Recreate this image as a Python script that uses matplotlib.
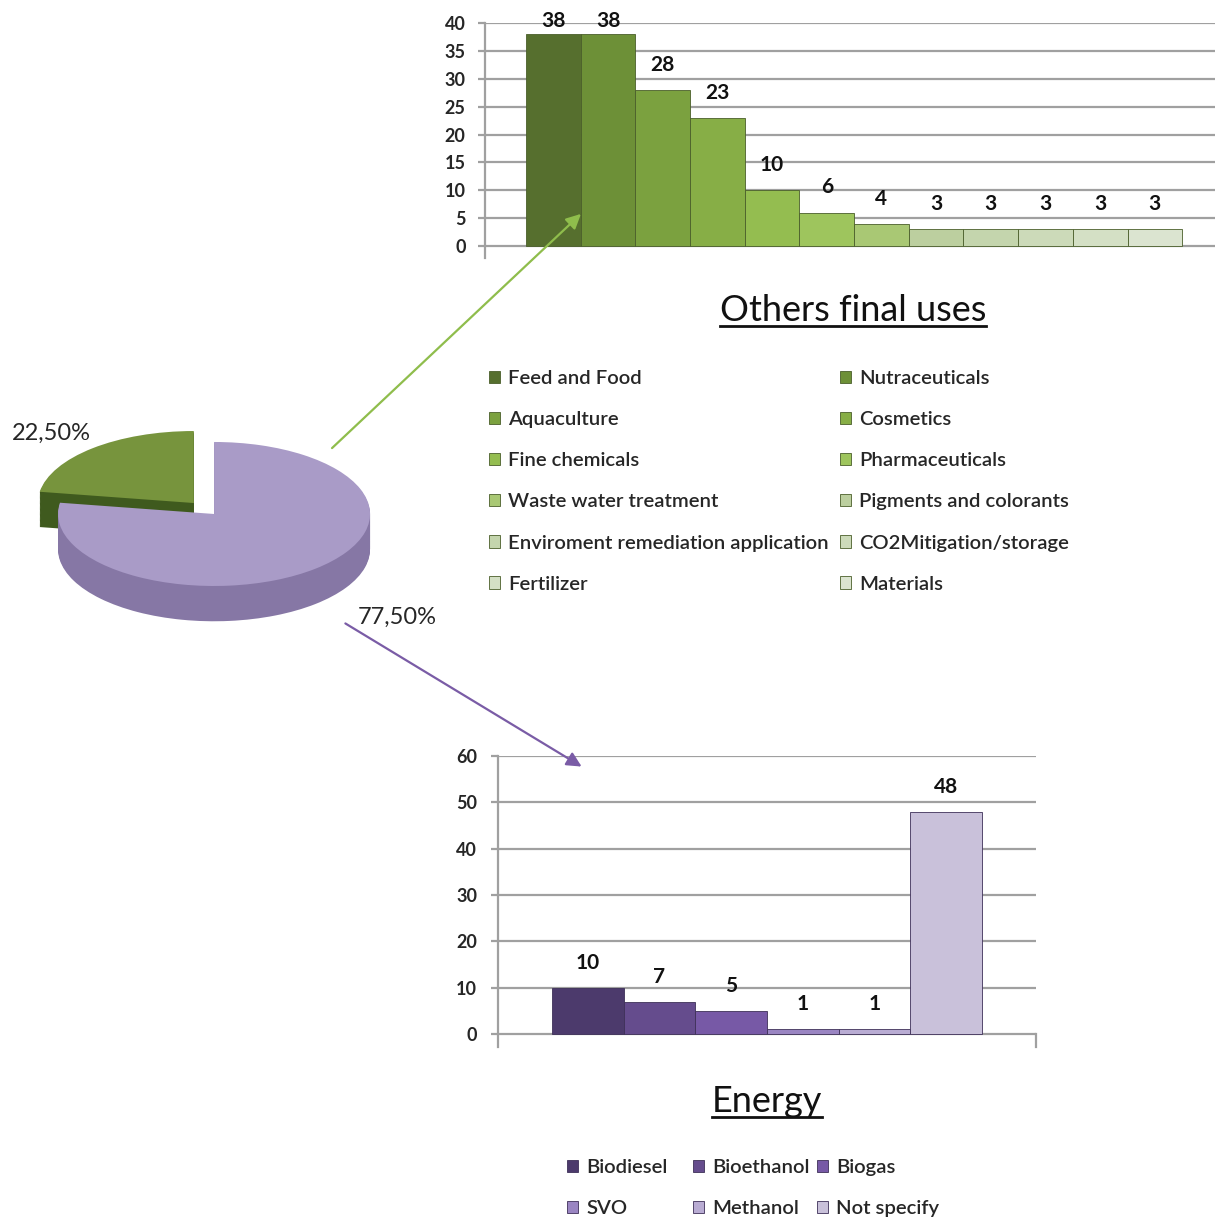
import matplotlib.pyplot as plt
import numpy as np
from matplotlib.patches import FancyArrowPatch
from matplotlib.lines import Line2D

plt.rcParams['font.family'] = ['Lato', 'DejaVu Sans']

# pie data
pie_labels = ['22,50%', '77,50%']
pie_shares = [22.5, 77.5]

# others final uses
other_uses = ['Feed and Food', 'Nutraceuticals', 'Aquaculture', 'Cosmetics',
              'Fine chemicals', 'Pharmaceuticals', 'Waste water treatment',
              'Pigments and colorants', 'Enviroment remediation application',
              'CO2Mitigation/storage', 'Fertilizer', 'Materials']
other_counts = [38, 38, 28, 23, 10, 6, 4, 3, 3, 3, 3, 3]

# energy
energy_uses = ['Biodiesel', 'Bioethanol', 'Biogas', 'SVO', 'Methanol', 'Not specify']
energy_counts = [10, 7, 5, 1, 1, 48]

green_cols = ['#566f2e', '#6d9037', '#7ba13f', '#87ae46', '#94bd50', '#9ec55d',
              '#a9c874', '#bccf9f', '#c4d5ad', '#ccdab9', '#d4e0c5', '#dbe4d0']
purple_cols = ['#4c3a6c', '#654c8d', '#7759a6', '#9a85c2', '#b9acd3', '#c9c1da']

W, H = 1218, 1220
fig = plt.figure(figsize=(W / 100, H / 100), dpi=100)


def px(x0, y0, x1, y1):
    return [x0 / W, 1 - y1 / H, (x1 - x0) / W, (y1 - y0) / H]


grid_col = '#a0a0a0'
txt_col = '#262626'

# ---- 3D-ish pie ----
axp = fig.add_axes(px(20, 400, 410, 650))
explode = [0.2, 0]
depth = 0.49
for d in np.linspace(depth, 0, 30)[:-1]:
    axp.pie(pie_shares, colors=['#3f5a1e', '#8677a5'], startangle=90,
            explode=explode, center=(0, -d), wedgeprops=dict(linewidth=0))
axp.pie(pie_shares, colors=['#77943d', '#a99bc7'], startangle=90,
        explode=explode, center=(0, 0), wedgeprops=dict(linewidth=0))
axp.set_aspect('auto')
axp.set_xlim(-1.244, 1.256)
axp.set_ylim(-1.889, 1.583)
axp.axis('off')

fig.text(12 / W, 1 - 433 / H, pie_labels[0], ha='left', va='center',
         fontsize=17, color=txt_col)
fig.text(358 / W, 1 - 617 / H, pie_labels[1], ha='left', va='center',
         fontsize=17, color=txt_col)

# arrows
fig.add_artist(FancyArrowPatch((330 / W, 1 - 450 / H), (583 / W, 1 - 212 / H),
                               transform=fig.transFigure, arrowstyle='-|>',
                               mutation_scale=22, color='#8fbd4c', lw=1.6))
fig.add_artist(FancyArrowPatch((343 / W, 1 - 622 / H), (584 / W, 1 - 768 / H),
                               transform=fig.transFigure, arrowstyle='-|>',
                               mutation_scale=22, color='#7a5ca6', lw=1.6))

# ---- top bar chart ----
ax1 = fig.add_axes(px(485, 23, 1215, 258))
x1 = np.arange(len(other_counts))
bars1 = ax1.bar(x1, other_counts, width=1.0, color=green_cols,
                edgecolor='#4a5e2a', linewidth=0.6, zorder=3)
for i, v in enumerate(other_counts):
    ax1.text(i, min(v + 4.5, 40.4), str(v), ha='center', va='center',
             fontsize=15, fontweight='bold', color='#111111', clip_on=False)
ax1.set_xlim(-1.25, 12.1)
ax1.set_ylim(-2.15, 40)
ax1.set_yticks(np.arange(0, 41, 5))
ax1.set_xticks([])
ax1.yaxis.grid(True, color=grid_col, lw=1.6, zorder=0)
for s in ['top', 'right', 'bottom']:
    ax1.spines[s].set_visible(False)
ax1.spines['left'].set_color(grid_col)
ax1.spines['left'].set_linewidth(1.6)
ax1.tick_params(axis='y', length=5, width=1.6, color=grid_col, pad=9,
                labelsize=13, labelcolor=txt_col)
for lb in ax1.get_yticklabels():
    lb.set_fontweight('bold')

# ---- energy bar chart ----
ax2 = fig.add_axes(px(498, 756, 1036, 1047))
x2 = np.arange(len(energy_counts))
bars2 = ax2.bar(x2, energy_counts, width=1.0, color=purple_cols,
                edgecolor='#3e3058', linewidth=0.6, zorder=3)
for i, v in enumerate(energy_counts):
    ax2.text(i, v + 5.4, str(v), ha='center', va='center',
             fontsize=15, fontweight='bold', color='#111111', clip_on=False)
ax2.set_xlim(-1.25, 6.25)
ax2.set_ylim(-2.8, 60)
ax2.set_yticks(np.arange(0, 61, 10))
ax2.set_xticks([])
ax2.yaxis.grid(True, color=grid_col, lw=1.6, zorder=0)
for s in ['top', 'bottom']:
    ax2.spines[s].set_visible(False)
for s in ['left', 'right']:
    ax2.spines[s].set_color(grid_col)
    ax2.spines[s].set_linewidth(1.6)
ax2.spines['right'].set_bounds(-2.8, 0)
ax2.tick_params(axis='y', length=5, width=1.6, color=grid_col, pad=10,
                labelsize=13, labelcolor=txt_col)
for lb in ax2.get_yticklabels():
    lb.set_fontweight('bold')

# ---- titles (underlined) ----
t1 = fig.text(853 / W, 1 - 321 / H, 'Others final uses', ha='center',
              va='baseline', fontsize=26, color='#111111')
t2 = fig.text(767 / W, 1 - 1112 / H, 'Energy', ha='center',
              va='baseline', fontsize=26, color='#111111')

# ---- legends (one legend per column so columns sit where Excel put them) ----
leg_kw = dict(loc='upper left', frameon=False, borderpad=0, borderaxespad=0,
              handlelength=0.56, handleheight=0.56, handletextpad=0.38,
              labelspacing=1.19, prop=dict(size=14.6, weight='semibold'),
              labelcolor=txt_col)

for col, xcol in enumerate([489, 840]):
    idx = list(range(col, len(other_uses), 2))
    fig.legend([bars1[i] for i in idx], [other_uses[i] for i in idx],
               bbox_to_anchor=(xcol / W, 1 - 370 / H), **leg_kw)

for col, xcol in enumerate([567, 693, 817]):
    idx = list(range(col, len(energy_uses), 3))
    fig.legend([bars2[i] for i in idx], [energy_uses[i] for i in idx],
               bbox_to_anchor=(xcol / W, 1 - 1159 / H), **leg_kw)

fig.canvas.draw()
r = fig.canvas.get_renderer()
for t, base in [(t1, 321), (t2, 1112)]:
    bb = t.get_window_extent(r)
    yl = (H - base - 5) / H
    fig.add_artist(Line2D([bb.x0 / W, bb.x1 / W], [yl, yl],
                          transform=fig.transFigure, color='#111111', lw=2))

fig.savefig('out.png', dpi=100, facecolor='white')
